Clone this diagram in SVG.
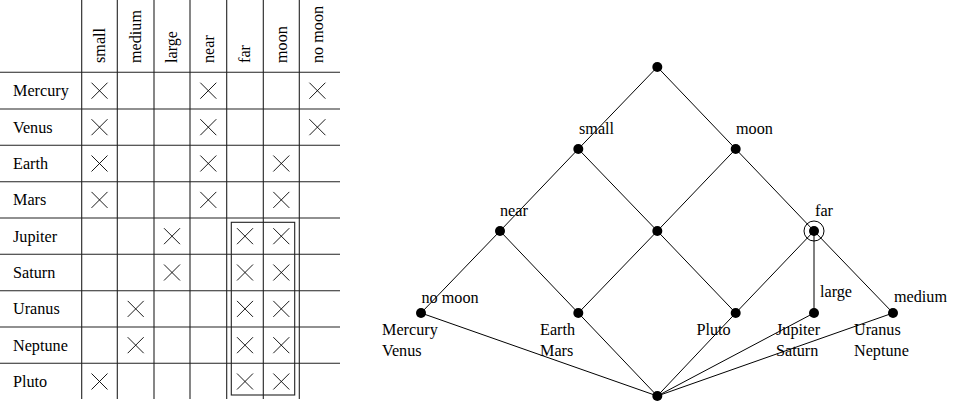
<svg xmlns="http://www.w3.org/2000/svg" xmlns:xlink="http://www.w3.org/1999/xlink" width="956" height="407" viewBox="0 0 956 407">
  <style>
    text { font-family: "Liberation Serif", "Times New Roman", serif; font-size: 16.2px; fill: #000; }
    .grid line { stroke: #222; stroke-width: 1.1; }
    .cross { stroke: #000; stroke-width: 0.9; fill: none; }
    .edge { stroke: #000; stroke-width: 1; fill: none; }
    .dot { fill: #000; }
  </style>
  <defs>
    <path id="x" class="cross" d="M-8,-8 L8,8 M-8,8 L8,-8"/>
  </defs>

  <rect width="956" height="407" fill="#fff"/>

  <!-- context table: planets vs attributes -->
  <g id="table">
    <g class="grid">
      <line x1="81.7" y1="0" x2="81.7" y2="399"/>
      <line x1="117.3" y1="0" x2="117.3" y2="399"/>
      <line x1="154" y1="0" x2="154" y2="399"/>
      <line x1="190" y1="0" x2="190" y2="399"/>
      <line x1="226.7" y1="0" x2="226.7" y2="399"/>
      <line x1="263.3" y1="0" x2="263.3" y2="399"/>
      <line x1="299.3" y1="0" x2="299.3" y2="399"/>
      <line x1="0" y1="72.3" x2="340" y2="72.3"/>
      <line x1="0" y1="109" x2="340" y2="109"/>
      <line x1="0" y1="145.3" x2="340" y2="145.3"/>
      <line x1="0" y1="181.7" x2="340" y2="181.7"/>
      <line x1="0" y1="218" x2="340" y2="218"/>
      <line x1="0" y1="254.3" x2="340" y2="254.3"/>
      <line x1="0" y1="290.7" x2="340" y2="290.7"/>
      <line x1="0" y1="327" x2="340" y2="327"/>
      <line x1="0" y1="363.3" x2="340" y2="363.3"/>
    </g>
    <!-- column headers -->
    <g id="headers">
      <text transform="translate(104.8,63) rotate(-90)">small</text>
      <text transform="translate(141,63) rotate(-90)">medium</text>
      <text transform="translate(177.3,63) rotate(-90)">large</text>
      <text transform="translate(213.6,63) rotate(-90)">near</text>
      <text transform="translate(250.3,63) rotate(-90)">far</text>
      <text transform="translate(286.6,63) rotate(-90)">moon</text>
      <text transform="translate(322.7,63) rotate(-90)">no moon</text>
    </g>
    <!-- row labels -->
    <g id="rows">
      <text x="13" y="96.3">Mercury</text>
      <text x="13" y="132.7">Venus</text>
      <text x="13" y="169">Earth</text>
      <text x="13" y="205.4">Mars</text>
      <text x="13" y="241.7">Jupiter</text>
      <text x="13" y="278">Saturn</text>
      <text x="13" y="314.4">Uranus</text>
      <text x="13" y="350.7">Neptune</text>
      <text x="13" y="387">Pluto</text>
    </g>
    <!-- incidences -->
    <g id="crosses">
      <use xlink:href="#x" x="99.5" y="90.7"/>
      <use xlink:href="#x" x="208.3" y="90.7"/>
      <use xlink:href="#x" x="317.4" y="90.7"/>

      <use xlink:href="#x" x="99.5" y="127.2"/>
      <use xlink:href="#x" x="208.3" y="127.2"/>
      <use xlink:href="#x" x="317.4" y="127.2"/>

      <use xlink:href="#x" x="99.5" y="163.5"/>
      <use xlink:href="#x" x="208.3" y="163.5"/>
      <use xlink:href="#x" x="281.3" y="163.5"/>

      <use xlink:href="#x" x="99.5" y="199.9"/>
      <use xlink:href="#x" x="208.3" y="199.9"/>
      <use xlink:href="#x" x="281.3" y="199.9"/>

      <use xlink:href="#x" x="172" y="236.2"/>
      <use xlink:href="#x" x="245" y="236.2"/>
      <use xlink:href="#x" x="281.3" y="236.2"/>

      <use xlink:href="#x" x="172" y="272.5"/>
      <use xlink:href="#x" x="245" y="272.5"/>
      <use xlink:href="#x" x="281.3" y="272.5"/>

      <use xlink:href="#x" x="135.7" y="308.9"/>
      <use xlink:href="#x" x="245" y="308.9"/>
      <use xlink:href="#x" x="281.3" y="308.9"/>

      <use xlink:href="#x" x="135.7" y="345.2"/>
      <use xlink:href="#x" x="245" y="345.2"/>
      <use xlink:href="#x" x="281.3" y="345.2"/>

      <use xlink:href="#x" x="99.5" y="381.5"/>
      <use xlink:href="#x" x="245" y="381.5"/>
      <use xlink:href="#x" x="281.3" y="381.5"/>
    </g>
    <!-- block of far/moon objects -->
    <rect x="231.3" y="222.3" width="63.4" height="172.7" fill="none" stroke="#222" stroke-width="1.1"/>
  </g>

  <!-- concept lattice: connectors -->
  <g id="connectors" class="edge">
    <line x1="657.3" y1="67" x2="578.3" y2="149"/>
    <line x1="657.3" y1="67" x2="735.7" y2="149"/>
    <line x1="578.3" y1="149" x2="500" y2="231"/>
    <line x1="578.3" y1="149" x2="657.3" y2="231"/>
    <line x1="735.7" y1="149" x2="657.3" y2="231"/>
    <line x1="735.7" y1="149" x2="814" y2="231"/>
    <line x1="500" y1="231" x2="421" y2="313"/>
    <line x1="500" y1="231" x2="578.3" y2="313"/>
    <line x1="657.3" y1="231" x2="578.3" y2="313"/>
    <line x1="657.3" y1="231" x2="735.7" y2="313"/>
    <line x1="814" y1="231" x2="735.7" y2="313"/>
    <line x1="814" y1="231" x2="814" y2="313"/>
    <line x1="814" y1="231" x2="893" y2="313"/>
    <line x1="657.3" y1="396" x2="421" y2="313"/>
    <line x1="657.3" y1="396" x2="578.3" y2="313"/>
    <line x1="657.3" y1="396" x2="735.7" y2="313"/>
    <line x1="657.3" y1="396" x2="814" y2="313"/>
    <line x1="657.3" y1="396" x2="893" y2="313"/>
  </g>

  <!-- concept lattice: nodes -->
  <g id="n-top"><circle class="dot" cx="657.3" cy="67" r="5"/></g>
  <g id="n-small"><circle class="dot" cx="578.3" cy="149" r="5"/><text x="579" y="134">small</text></g>
  <g id="n-moon"><circle class="dot" cx="735.7" cy="149" r="5"/><text x="736" y="134">moon</text></g>
  <g id="n-near"><circle class="dot" cx="500" cy="231" r="5"/><text x="500" y="216">near</text></g>
  <g id="n-mid"><circle class="dot" cx="657.3" cy="231" r="5"/></g>
  <g id="n-far">
    <circle class="dot" cx="814" cy="231" r="5"/>
    <circle cx="814" cy="231" r="10" fill="none" stroke="#000" stroke-width="1"/>
    <text x="815" y="216">far</text>
  </g>
  <g id="n-nomoon">
    <circle class="dot" cx="421" cy="313" r="5"/>
    <text x="421.5" y="303">no moon</text>
    <text x="382" y="335">Mercury</text>
    <text x="382" y="356">Venus</text>
  </g>
  <g id="n-earth">
    <circle class="dot" cx="578.3" cy="313" r="5"/>
    <text x="540" y="335">Earth</text>
    <text x="540" y="356">Mars</text>
  </g>
  <g id="n-pluto">
    <circle class="dot" cx="735.7" cy="313" r="5"/>
    <text x="696.5" y="335">Pluto</text>
  </g>
  <g id="n-large">
    <circle class="dot" cx="814" cy="313" r="5"/>
    <text x="820" y="297">large</text>
    <text x="776" y="335">Jupiter</text>
    <text x="776" y="356">Saturn</text>
  </g>
  <g id="n-medium">
    <circle class="dot" cx="893" cy="313" r="5"/>
    <text x="894" y="302">medium</text>
    <text x="854" y="335">Uranus</text>
    <text x="854" y="356">Neptune</text>
  </g>
  <g id="n-bottom"><circle class="dot" cx="657.3" cy="396" r="5"/></g>
</svg>
